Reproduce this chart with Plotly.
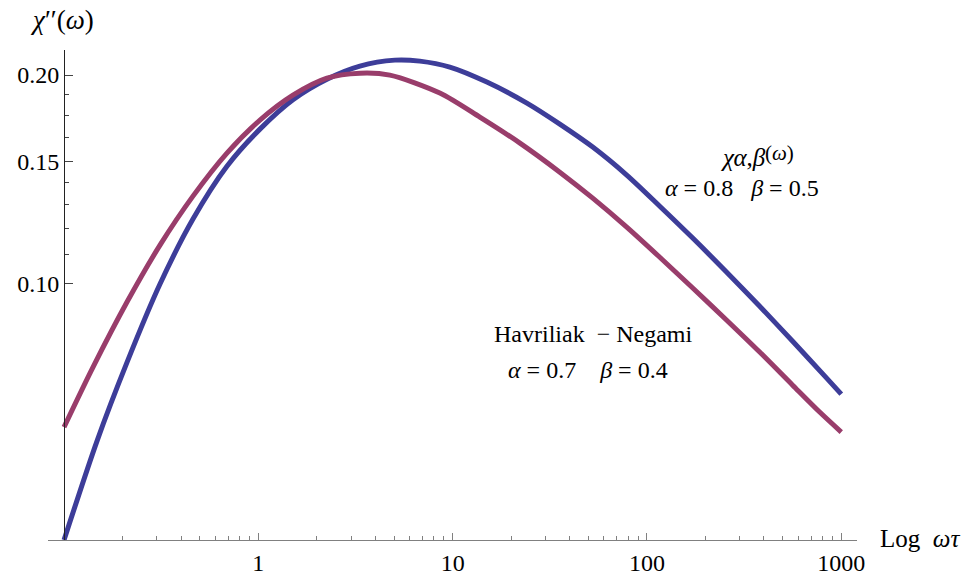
import math
import plotly.graph_objects as go

# Data
hn_x = [0.1, 0.1410, 0.2109, 0.3118, 0.4609, 0.6894, 1.019, 1.507, 2.254, 3.332, 4.753, 8.59,
        13.80, 22.2, 35.6, 52.6, 78.7, 116.4, 172.0, 257.3, 380.4, 562, 774, 1000]
hn_y = [0.0620, 0.0757, 0.0940, 0.1136, 0.1337, 0.1543, 0.1722, 0.1871, 0.1980, 0.2013, 0.2000, 0.1884,
        0.1739, 0.1595, 0.1448, 0.1328, 0.1206, 0.1091, 0.0985, 0.0885, 0.0796, 0.0713, 0.0652, 0.0610]

ab_x = [0.1, 0.1478, 0.2109, 0.3118, 0.4609, 0.6894, 1.019, 1.507, 2.254, 3.332, 5.043, 6.78, 9.67,
        15.0, 24.1, 35.6, 52.6, 78.7, 116.4, 172.0, 257.3, 380.4, 562, 841, 1000]
ab_y = [0.0426, 0.0592, 0.0769, 0.0998, 0.1239, 0.1477, 0.1671, 0.1843, 0.1973, 0.2061, 0.2102, 0.2095, 0.2054,
        0.1954, 0.1822, 0.1699, 0.1574, 0.1434, 0.1293, 0.1163, 0.1038, 0.0927, 0.0825, 0.0730, 0.0692]

x_major = [1, 10, 100, 1000]
x_major_text = ["1", "10", "100", "1000"]
x_minor = [0.2, 0.3, 0.4, 0.5, 0.6, 0.7, 0.8, 0.9, 2, 3, 4, 5, 6, 7, 8, 9,
           20, 30, 40, 50, 60, 70, 80, 90, 200, 300, 400, 500, 600, 700, 800, 900]
y_major = [0.10, 0.15, 0.20]
y_major_text = ["0.10", "0.15", "0.20"]
y_minor = [0.11, 0.12, 0.13, 0.14, 0.1625, 0.175, 0.1875]

x_range = [0.0827, 1205]
y_range = [0.0426, 0.2174]

BLUE = "#3d3d99"
MAG = "#993d6b"
FONT = "'Liberation Serif', 'Times New Roman', serif"

fig = go.Figure()
fig.add_trace(go.Scatter(x=ab_x, y=ab_y, mode="lines",
                         line=dict(color=BLUE, width=5, shape="spline", smoothing=0.8),
                         showlegend=False, hoverinfo="skip"))
fig.add_trace(go.Scatter(x=hn_x, y=hn_y, mode="lines",
                         line=dict(color=MAG, width=5, shape="spline", smoothing=0.8),
                         showlegend=False, hoverinfo="skip"))

lx0, lx1 = math.log10(x_range[0]), math.log10(x_range[1])
ypos = (math.log10(0.1) - lx0) / (lx1 - lx0)

fig.update_layout(
    width=962, height=579,
    margin=dict(l=48, r=105, t=50, b=39, autoexpand=False),
    paper_bgcolor="white", plot_bgcolor="white",
    font=dict(family=FONT, size=24, color="black"),
    xaxis=dict(type="log", range=[lx0, lx1], showgrid=False, zeroline=False, automargin=False,
               showline=True, linecolor="#808080", linewidth=1.2,
               tickmode="array", tickvals=x_major, ticktext=x_major_text,
               ticks="inside", ticklen=7, tickwidth=1, tickcolor="#808080",
               ticklabelstandoff=1,
               tickfont=dict(family=FONT, size=24, color="black"),
               minor=dict(tickmode="array", tickvals=x_minor, ticks="inside",
                          ticklen=3.5, tickwidth=1, tickcolor="#808080", showgrid=False)),
    yaxis=dict(type="log", range=[math.log10(y_range[0]), math.log10(y_range[1])],
               anchor="free", position=ypos, showgrid=False, zeroline=False, automargin=False,
               showline=True, linecolor="#222222", linewidth=1.2,
               tickmode="array", tickvals=y_major, ticktext=y_major_text,
               ticks="inside", ticklen=8, tickwidth=1, tickcolor="#444444",
               tickfont=dict(family=FONT, size=24, color="black"),
               minor=dict(tickmode="array", tickvals=y_minor, ticks="inside",
                          ticklen=4, tickwidth=1, tickcolor="#444444", showgrid=False)),
)

def ann(text, x, y, xanchor="center", yanchor="middle", size=24):
    fig.add_annotation(text=text, x=x, y=y, xref="paper", yref="paper",
                       xanchor=xanchor, yanchor=yanchor, showarrow=False,
                       font=dict(family=FONT, size=size, color="black"))

ann("<i>χ</i>′′(<i>ω</i>)", 0.0179, 1.061, size=27)
ann("Log  <i>ωτ</i>", 1.026, 0.004, xanchor="left", size=25)
ann("<i>χα</i>,<i>β</i>", 0.890, 0.7796, xanchor="right", size=25)
ann("(<i>ω</i>)", 0.8835, 0.7898, xanchor="left", size=21)
ann("<i>α</i> = 0.8   <i>β</i> = 0.5", 0.858, 0.718)
ann("Havriliak  − Negami", 0.6737, 0.4204)
ann("<i>α</i> = 0.7    <i>β</i> = 0.4", 0.6675, 0.3469)

fig.write_html("out.html")
